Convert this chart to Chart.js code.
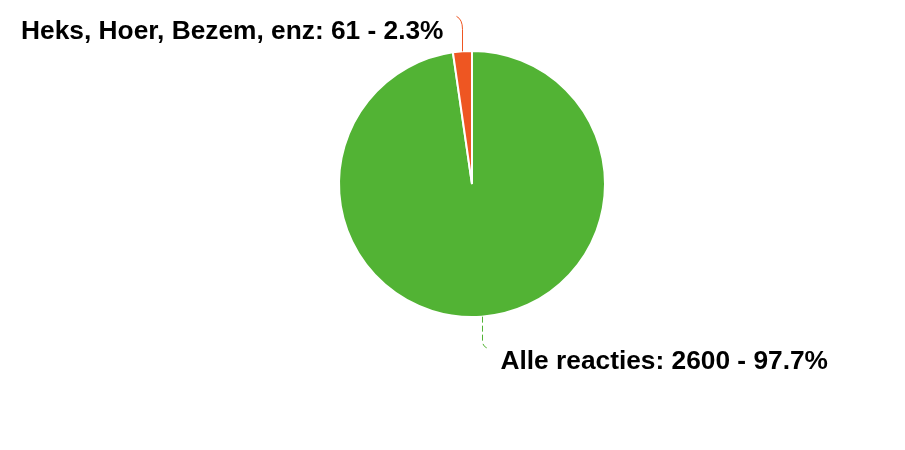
<!DOCTYPE html>
<html>
<head>
<meta charset="utf-8">
<script src="https://cdn.jsdelivr.net/npm/chart.js@4"></script>
<style>
  html, body { margin: 0; padding: 0; background: #fff; }
  #wrap { width: 905px; height: 450px; }
</style>
</head>
<body>
<div id="wrap"><canvas id="pie"></canvas></div>
<script>
// chart data
const labels = ['Alle reacties', 'Heks, Hoer, Bezem, enz'];
const counts = [2600, 61];
const percents = ['97.7', '2.3'];
const colors = ['#52b334', '#ee5622'];

// draws leader lines + labels next to each slice
const leaderLabels = {
  id: 'leaderLabels',
  afterDraw(chart) {
    const ctx = chart.ctx;
    const arcs = chart.getDatasetMeta(0).data;
    ctx.save();
    ctx.font = 'bold 26.3px "Liberation Sans", Arial, sans-serif';
    ctx.fillStyle = '#000';
    ctx.textBaseline = 'middle';
    arcs.forEach((arc, i) => {
      const mid = (arc.startAngle + arc.endAngle) / 2;
      const x0 = Math.round(arc.x + Math.cos(mid) * arc.outerRadius) + 0.5;
      const y0 = arc.y + Math.sin(mid) * arc.outerRadius;
      const up = Math.sin(mid) < 0;
      const text = labels[i] + ': ' + counts[i] + ' - ' + percents[i] + '%';
      ctx.strokeStyle = colors[i];
      ctx.lineWidth = 1;
      ctx.beginPath();
      if (up) {
        ctx.setLineDash([]);
        ctx.moveTo(x0, y0);
        ctx.lineTo(x0, y0 - 22);
        ctx.quadraticCurveTo(x0, y0 - 32, x0 - 6, y0 - 35);
        ctx.stroke();
        ctx.textAlign = 'right';
        ctx.fillText(text, x0 - 19, y0 - 20);
      } else {
        ctx.setLineDash([6, 3]);
        ctx.moveTo(x0, y0);
        ctx.lineTo(x0, y0 + 24);
        ctx.quadraticCurveTo(x0, y0 + 31, x0 + 7, y0 + 32);
        ctx.stroke();
        ctx.textAlign = 'left';
        ctx.fillText(text, x0 + 18, y0 + 45);
      }
    });
    ctx.restore();
  }
};

new Chart(document.getElementById('pie'), {
  type: 'pie',
  data: {
    labels: labels,
    datasets: [{
      data: counts,
      backgroundColor: colors,
      borderColor: '#fff',
      borderWidth: 2
    }]
  },
  options: {
    responsive: true,
    maintainAspectRatio: false,
    animation: false,
    layout: { padding: { top: 50, bottom: 132, left: 39, right: 0 } },
    plugins: {
      legend: { display: false },
      tooltip: { enabled: false }
    }
  },
  plugins: [leaderLabels]
});
</script>
</body>
</html>
